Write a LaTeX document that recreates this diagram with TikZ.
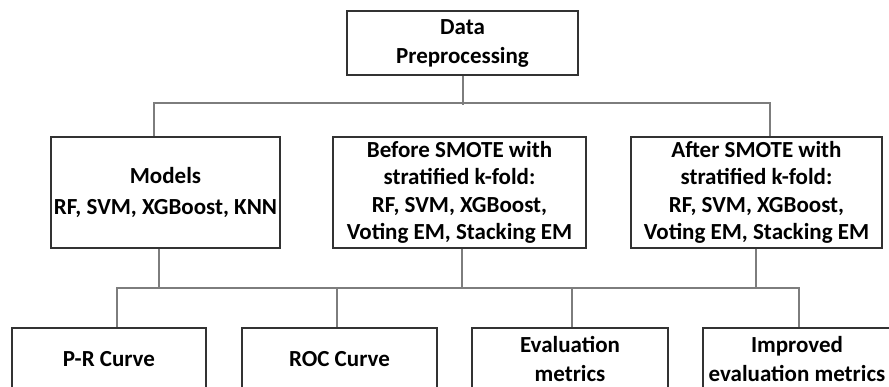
\documentclass[tikz,border=0pt]{standalone}
\usepackage{fontspec}
\setmainfont{Carlito}
\definecolor{linegray}{RGB}{125,125,125}
\definecolor{boxline}{RGB}{50,50,50}
\begin{document}
\begin{tikzpicture}[x=1pt,y=1pt,
  box/.style={draw=boxline,line width=1.6pt,fill=white,align=center,inner sep=0pt,
    font=\fontsize{23}{27.5}\selectfont\bfseries},
  conn/.style={draw=linegray,line width=2pt}]
\clip (0,0) rectangle (889,-387);
\fill[white] (0,0) rectangle (889,-387);
% nodes
\node[box,minimum width=231pt,minimum height=64pt] (top) at (462.5,-43) {Data\\[1.5pt]Preprocessing};
\node[box,minimum width=229pt,minimum height=111pt] (m1) at (165.5,-192.5) {Models\\[4pt]RF, SVM, XGBoost, KNN};
\node[box,minimum width=253pt,minimum height=111pt] (m2) at (459.5,-192.5) {Before SMOTE with\\stratified k-fold:\\RF, SVM, XGBoost,\\Voting EM, Stacking EM};
\node[box,minimum width=251pt,minimum height=111pt] (m3) at (756.5,-192.5) {After SMOTE with\\stratified k-fold:\\RF, SVM, XGBoost,\\Voting EM, Stacking EM};
\node[box,minimum width=194pt,minimum height=62pt] (b1) at (109,-359) {P-R Curve};
\node[box,minimum width=195pt,minimum height=62pt] (b2) at (339.5,-359) {ROC Curve};
\node[box,minimum width=196pt,minimum height=62pt] (b3) at (570,-359) {Evaluation\\[2pt]metrics};
\node[box,minimum width=188pt,minimum height=62pt] (b4) at (797,-359) {Improved\\[2pt]evaluation metrics};
% top bus
\draw[conn] (top.south) -- ++(0,-29);
\draw[conn] ([xshift=-11.5pt]m1.north) -- ++(0,33) -| ([xshift=13.5pt]m3.north);
% bottom bus
\draw[conn] ([xshift=-6.5pt]m1.south) -- ++(0,-40.5);
\draw[conn] ([xshift=2.5pt]m2.south) -- ++(0,-40.5);
\draw[conn] ([xshift=-0.5pt]m3.south) -- ++(0,-40.5);
\draw[conn] ([xshift=8pt]b1.north) -- ++(0,39) -| ([xshift=2pt]b4.north);
\draw[conn] ([xshift=-2.5pt]b2.north) -- ++(0,39);
\draw[conn] ([xshift=2pt]b3.north) -- ++(0,39);
\end{tikzpicture}
\end{document}
